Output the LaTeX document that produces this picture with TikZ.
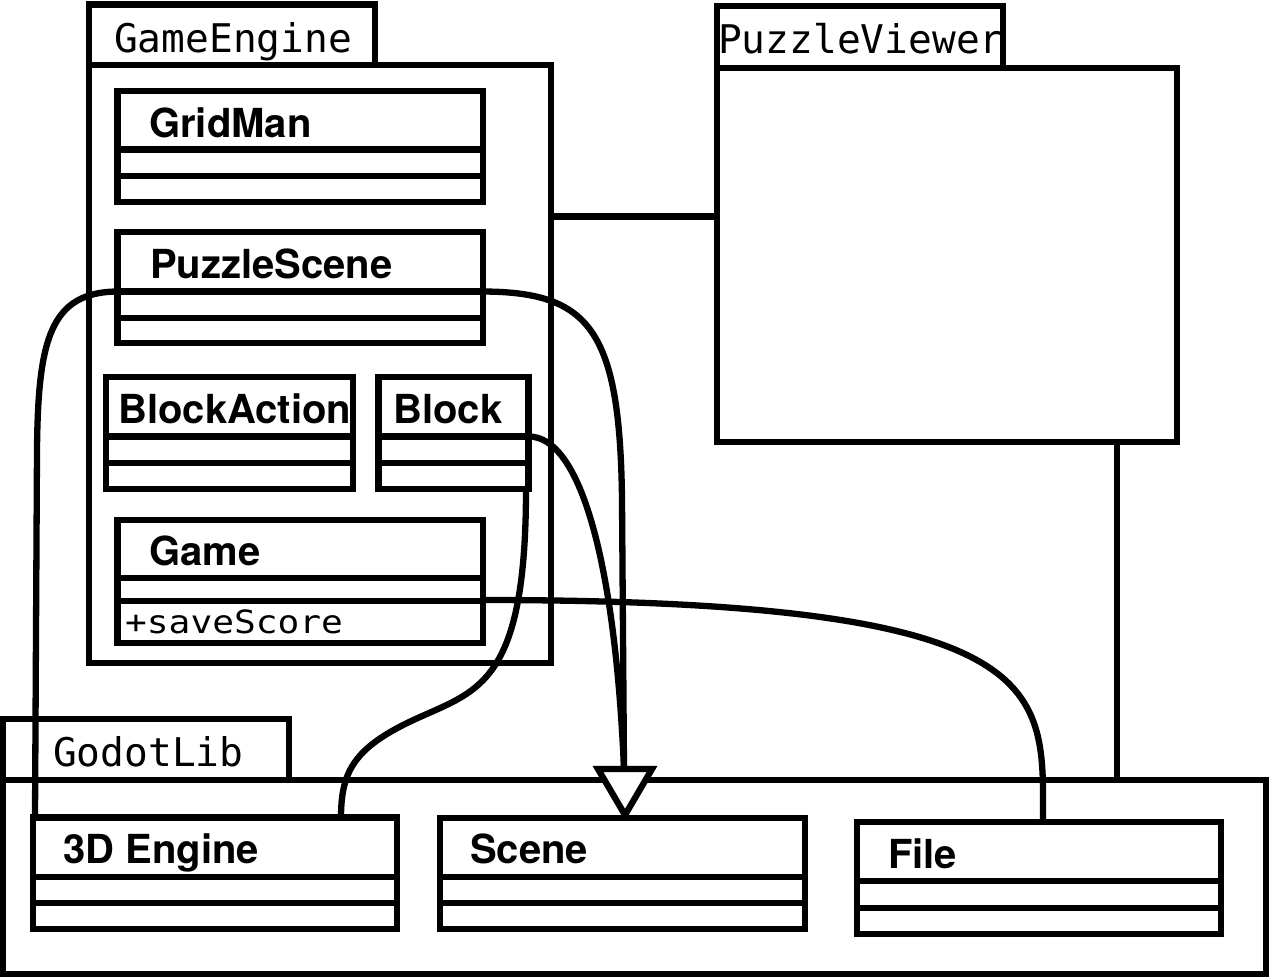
\documentclass[tikz,border=0pt]{standalone}
\usepackage{fontspec}
\setmainfont{TeX Gyre Heros}
\newfontfamily\monof{DejaVu Sans Mono}
\begin{document}
\begin{tikzpicture}[x=1pt,y=-1pt,
  ln/.style={line width=6.3pt},
  frame/.style={draw, line width=6.3pt, rectangle, inner sep=0pt, outer sep=0pt},
  ctitle/.style={anchor=base west, inner sep=0pt, font=\fontsize{40}{48}\selectfont\bfseries},
  pkgname/.style={anchor=base west, inner sep=0pt, font=\monof\fontsize{39.5}{47}\selectfont},
  member/.style={anchor=base west, inner sep=0pt, font=\monof\fontsize{32}{38}\selectfont},
]
\useasboundingbox (0,0) rectangle (1273,978);
\fill[white] (0,0) rectangle (1273,978);

% ---------- GameEngine package ----------
\draw[ln] (89,4.5) rectangle (375,65);
\node[frame, minimum width=462pt, minimum height=598pt] (gebody) at (320,364) {};
\node[pkgname] (getxt) at (114,52) {GameEngine};

% GridMan
\node[frame, minimum width=365.5pt, minimum height=111pt] (gridman) at (300.25,146.5) {};
\draw[ln] (117.5,149.5) -- (483,149.5);
\draw[ln] (117.5,176) -- (483,176);
\node[ctitle] (gridmant) at (149,137) {GridMan};

% PuzzleScene
\node[frame, minimum width=365.5pt, minimum height=111pt] (pscene) at (300.25,287.5) {};
\draw[ln] (117.5,291.5) -- (483,291.5);
\draw[ln] (117.5,318) -- (483,318);
\node[ctitle] (pscenet) at (150,278) {PuzzleScene};

% BlockAction
\node[frame, minimum width=247pt, minimum height=112pt] (baction) at (229.5,433) {};
\draw[ln] (106,436.5) -- (353,436.5);
\draw[ln] (106,463) -- (353,463);
\node[ctitle] (bactiont) at (118,423) {BlockAction};

% Block
\node[frame, minimum width=150pt, minimum height=112pt] (block) at (453.5,433) {};
\draw[ln] (378.5,436.5) -- (528.5,436.5);
\draw[ln] (378.5,463) -- (528.5,463);
\node[ctitle] (blockt) at (393,423) {Block};

% Game
\node[frame, minimum width=365.5pt, minimum height=123pt] (game) at (300.25,581.5) {};
\draw[ln] (117.5,578) -- (483,578);
\draw[ln] (117.5,601) -- (483,601);
\node[ctitle] (gamet) at (149,565) {Game};
\node[member] (savescore) at (125,633) {\scalebox{1.13}[1]{+saveScore}};

% ---------- PuzzleViewer package ----------
\draw[ln] (717,6) rectangle (1003,68);
\node[frame, minimum width=460pt, minimum height=374pt] (pvbody) at (947,255) {};
\node[pkgname] (pvtxt) at (718,53) {PuzzleViewer};

% ---------- GodotLib package ----------
\draw[ln] (3,719) rectangle (289,780);
\node[frame, minimum width=1263pt, minimum height=194pt] (godot) at (634.5,877) {};
\node[pkgname] (gltxt) at (53,766) {GodotLib};

% 3D Engine
\node[frame, minimum width=364pt, minimum height=111.5pt] (eng3d) at (215,873.25) {};
\draw[ln] (33,877) -- (397,877);
\draw[ln] (33,903) -- (397,903);
\node[ctitle] (eng3dt) at (63,863) {3D Engine};

% Scene
\node[frame, minimum width=365pt, minimum height=111pt] (scene) at (622.5,873.5) {};
\draw[ln] (440,877) -- (805,877);
\draw[ln] (440,903) -- (805,903);
\node[ctitle] (scenet) at (470,863) {Scene};

% File
\node[frame, minimum width=364pt, minimum height=112pt] (file) at (1039,878) {};
\draw[ln] (857,881) -- (1221,881);
\draw[ln] (857,908) -- (1221,908);
\node[ctitle] (filet) at (888,868) {File};

% ---------- connector anchors ----------
\coordinate (geR) at (551,216.5);
\coordinate (pvB) at (1117,442);
\coordinate (psL) at (117.5,291.5);
\coordinate (psR) at (483,291.5);
\coordinate (blR) at (528.5,436.5);
\coordinate (blB) at (526,489);
\coordinate (gmR) at (483,600);
\coordinate (e3dL) at (35,817.5);
\coordinate (e3dR) at (341,817.5);
\coordinate (fileT) at (1043,822);
\coordinate (inh) at (624,769);

% inheritance triangle
\draw[ln, fill=white, line join=miter] (598,769) -- (652,769) -- (625,815) -- cycle;

% ---------- connectors ----------
\draw[ln] (geR) -- (pvbody.west |- geR);
\draw[ln] (pvB) -- (pvB |- godot.north);
\draw[ln] (psL) .. controls (50,292) and (38,340) .. (37,450) -- (e3dL);
\draw[ln] (psR) .. controls (590,292) and (620,330) .. (622,500) -- (inh);
\draw[ln] (blR) .. controls (580,436) and (615,560) .. (inh);
\draw[ln] (blB) .. controls (526,680) and (480,690) .. (420,717)
                .. controls (355,746) and (341,770) .. (e3dR);
\draw[ln] (gmR) .. controls (1060,600) and (1043,690) .. (fileT);
\end{tikzpicture}
\end{document}
